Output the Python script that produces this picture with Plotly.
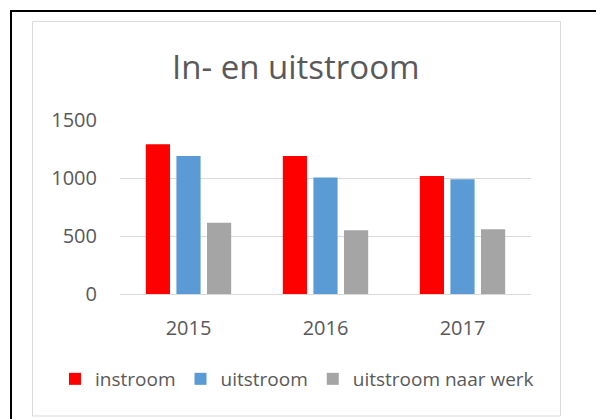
import plotly.graph_objects as go

years = ["2015", "2016", "2017"]
instroom = [1290, 1190, 1017]
uitstroom = [1190, 1005, 989]
uitstroom_werk = [615, 549, 558]
series_names = ["instroom", "uitstroom", "uitstroom naar werk"]
colors = ["#FF0000", "#5B9BD5", "#A5A5A5"]
y_ticks = [0, 500, 1000, 1500]

OFF = 8  # default page body margin
W, H = 604 - OFF, 419 - OFF
L, R, T, B = 120, 531, 120, 294  # plot area in page pixels

def px(x):
    return (x - L) / (R - L)

def py(y):
    return (B - y) / (B - T)

font_family = "Open Sans, Noto Sans, sans-serif"
txt = "#595959"

fig = go.Figure()
for name, vals, c in zip(series_names, [instroom, uitstroom, uitstroom_werk], colors):
    fig.add_trace(go.Bar(x=years, y=vals, name=name, marker=dict(color=c, line=dict(width=0))))

fig.update_layout(
    width=W, height=H,
    margin=dict(l=L - OFF, r=W - (R - OFF), t=T - OFF, b=H - (B - OFF), pad=0),
    paper_bgcolor="white", plot_bgcolor="white",
    barmode="group", bargap=0.33, bargroupgap=0.21,
    font=dict(family=font_family, color=txt),
    showlegend=True,
    legend=dict(orientation="h", x=px(55), xref="paper", xanchor="left",
                y=py(379), yref="paper", yanchor="middle",
                font=dict(size=19, color=txt), itemwidth=30, tracegroupgap=0,
                bgcolor="rgba(0,0,0,0)"),
    xaxis=dict(showgrid=False, showline=False, zeroline=False, ticks="",
               tickfont=dict(size=20, color=txt), ticklabelstandoff=20),
    yaxis=dict(range=[0, 1500], tickvals=y_ticks, showgrid=True, gridcolor="#D9D9D9",
               gridwidth=1, zeroline=True, zerolinecolor="#D9D9D9", zerolinewidth=1,
               showline=False, ticks="", tickfont=dict(size=20, color=txt),
               ticklabelstandoff=22),
    annotations=[dict(text="In- en uitstroom", xref="paper", yref="paper",
                      x=px(296), y=py(66), xanchor="center", yanchor="middle",
                      showarrow=False, font=dict(size=33, color=txt, family=font_family))],
    shapes=[
        dict(type="rect", xref="paper", yref="paper", x0=px(32.5), x1=px(560.5),
             y0=py(416), y1=py(21.5), line=dict(color="#D9D9D9", width=1), layer="below"),
        dict(type="rect", xref="paper", yref="paper", x0=px(11), x1=px(640),
             y0=py(460), y1=py(11), line=dict(color="black", width=2), layer="below"),
    ],
)

fig.write_html("out.html")
